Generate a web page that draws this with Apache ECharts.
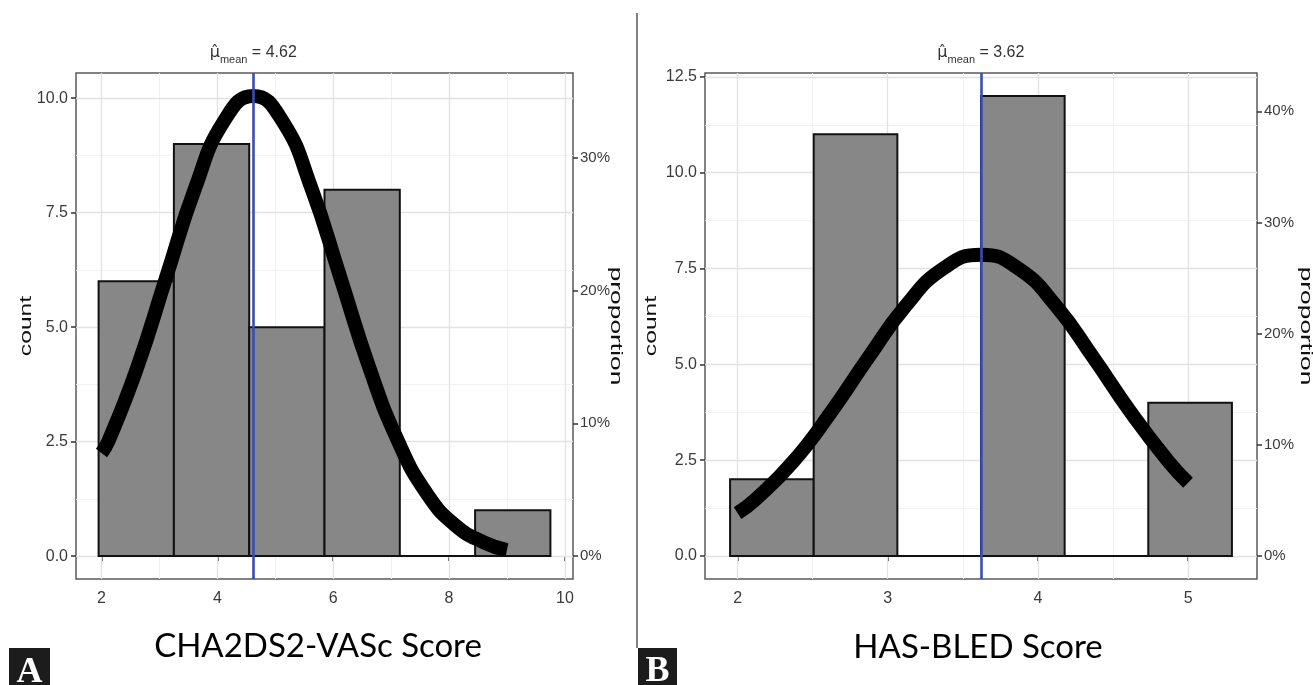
<!DOCTYPE html>
<html><head><meta charset="utf-8">
<script src="https://cdn.jsdelivr.net/npm/echarts@6/dist/echarts.min.js"></script>
<style>html,body{margin:0;padding:0;background:#fff}#c{width:1313px;height:685px}</style>
</head><body><div id="c"></div>
<script>
// ---------- Panel A : CHA2DS2-VASc Score ----------
const binStartA = [1.95, 3.25, 4.55, 5.85, 7.15, 8.45];
const binEndA   = [3.25, 4.55, 5.85, 7.15, 8.45, 9.75];
const countsA   = [6, 9, 5, 8, 0, 1];
const curveXA   = [2, 2.12, 2.62, 3.12, 3.62, 4.12, 4.62, 5.12, 5.62, 6.12, 6.62, 7.12, 7.62, 8.12, 8.62, 9];
const curveYA   = [2.25, 2.51, 4.13, 6.1, 8.05, 9.51, 10.05, 9.51, 8.05, 6.1, 4.13, 2.51, 1.36, 0.66, 0.29, 0.13];
const meanA     = 4.62;
const nA        = 29;
const xTicksA   = [2, 4, 6, 8, 10];
const xMinorA   = [3, 5, 7, 9];
const yTicksA   = [0, 2.5, 5, 7.5, 10];
const yMinorA   = [1.25, 3.75, 6.25, 8.75];
const propTicksA = [0, 0.1, 0.2, 0.3];
const titleA    = 'CHA2DS2-VASc Score';

// ---------- Panel B : HAS-BLED Score ----------
const binStartB = [1.95, 2.507, 3.064, 3.621, 4.178, 4.735];
const binEndB   = [2.507, 3.064, 3.621, 4.178, 4.735, 5.292];
const countsB   = [2, 11, 0, 12, 0, 4];
const curveXB   = [2, 2.12, 2.37, 2.62, 2.87, 3.12, 3.37, 3.62, 3.87, 4.12, 4.37, 4.62, 4.87, 5];
const curveYB   = [1.12, 1.48, 2.46, 3.74, 5.17, 6.53, 7.5, 7.86, 7.5, 6.53, 5.17, 3.74, 2.46, 1.91];
const meanB     = 3.62;
const nB        = 29;
const xTicksB   = [2, 3, 4, 5];
const xMinorB   = [2.5, 3.5, 4.5];
const yTicksB   = [0, 2.5, 5, 7.5, 10, 12.5];
const yMinorB   = [1.25, 3.75, 6.25, 8.75, 11.25];
const propTicksB = [0, 0.1, 0.2, 0.3, 0.4];
const titleB    = 'HAS-BLED Score';

// ---------- styling ----------
const tickFont = "'Liberation Sans Narrow','Arial Narrow','Liberation Sans',Arial,sans-serif";
const labelColor = '#3a3a3a';
const majorGrid = {color: '#e2e2e2', width: 1.3, type: 'solid'};
const minorGrid = {color: '#efefef', width: 0.9, type: 'solid'};

function xAxes(gi, min, max, ticks, mean) {
  return [{
    gridIndex: gi, type: 'value', position: 'bottom', min: min, max: max,
    axisLine: {show: false}, splitLine: {show: false},
    axisTick: {show: true, customValues: ticks, length: 5, lineStyle: {color: '#333', width: 1.5}},
    axisLabel: {customValues: ticks, margin: 12, color: labelColor, fontSize: 16, fontFamily: tickFont,
      formatter: v => String(v)}
  }, {
    gridIndex: gi, type: 'value', position: 'top', min: min, max: max,
    axisLine: {show: false}, splitLine: {show: false},
    axisTick: {show: true, customValues: [mean], length: 6, lineStyle: {color: '#222', width: 1.5}},
    axisLabel: {customValues: [mean], margin: 8, color: '#333',
      formatter: v => '{mu|\u03BC\u0302}{sub|mean}{eq| = ' + v.toFixed(2) + '}',
      rich: {
        mu: {fontSize: 16, fontFamily: "'DejaVu Sans',sans-serif", color: '#333', lineHeight: 24, verticalAlign: 'middle'},
        sub: {fontSize: 11, fontFamily: tickFont, color: '#333', lineHeight: 12, verticalAlign: 'bottom'},
        eq: {fontSize: 16, fontFamily: tickFont, color: '#333', lineHeight: 24, verticalAlign: 'middle'}
      }}
  }];
}
function yAxes(gi, min, max, ticks, n, props) {
  return [{
    gridIndex: gi, type: 'value', position: 'left', min: min, max: max,
    axisLine: {show: false}, splitLine: {show: false},
    axisTick: {show: true, customValues: ticks, length: 5, lineStyle: {color: '#333', width: 1.5}},
    axisLabel: {customValues: ticks, margin: 8, color: labelColor, fontSize: 16, fontFamily: tickFont,
      formatter: v => v.toFixed(1)}
  }, {
    gridIndex: gi, type: 'value', position: 'right', min: min / n, max: max / n,
    axisLine: {show: false}, splitLine: {show: false},
    axisTick: {show: true, customValues: props, length: 5, lineStyle: {color: '#333', width: 1.5}},
    axisLabel: {customValues: props, margin: 7, color: labelColor, fontSize: 15, fontFamily: tickFont,
      formatter: v => Math.round(v * 100) + '%'}
  }];
}

function gridSeries(xi, yi, xMaj, xMin, yMaj, yMin, anchor) {
  const d = [];
  xMin.forEach(v => d.push({xAxis: v, lineStyle: minorGrid}));
  yMin.forEach(v => d.push({yAxis: v, lineStyle: minorGrid}));
  xMaj.forEach(v => d.push({xAxis: v, lineStyle: majorGrid}));
  yMaj.forEach(v => d.push({yAxis: v, lineStyle: majorGrid}));
  return {
    type: 'line', xAxisIndex: xi, yAxisIndex: yi, z: 1, silent: true,
    data: [[anchor, 0]], showSymbol: false, lineStyle: {opacity: 0},
    markLine: {z: 1, silent: true, symbol: 'none', animation: false, label: {show: false}, data: d}
  };
}
function barSeries(xi, yi, starts, ends, counts) {
  return {
    type: 'custom', xAxisIndex: xi, yAxisIndex: yi, z: 3, silent: true,
    data: starts.map((s, i) => [s, ends[i], counts[i]]),
    encode: {x: [0, 1], y: 2},
    renderItem: (params, api) => {
      const p0 = api.coord([api.value(0), 0]);
      const p1 = api.coord([api.value(1), api.value(2)]);
      return {type: 'rect',
        shape: {x: p0[0], y: p1[1], width: p1[0] - p0[0], height: p0[1] - p1[1]},
        style: {fill: '#878787', stroke: '#111', lineWidth: 2}};
    }
  };
}
function curveSeries(xi, yi, xs, ys) {
  return {
    type: 'line', xAxisIndex: xi, yAxisIndex: yi, z: 5, silent: true,
    data: xs.map((x, i) => [x, ys[i]]), showSymbol: false, smooth: true,
    lineStyle: {color: '#000', width: 14, cap: 'butt', join: 'round'}
  };
}
function meanSeries(xi, yi, mean) {
  return {
    type: 'line', xAxisIndex: xi, yAxisIndex: yi, z: 10, silent: true,
    data: [[mean, 0]], showSymbol: false, lineStyle: {opacity: 0},
    markLine: {z: 10, silent: true, symbol: 'none', animation: false, label: {show: false},
      data: [{xAxis: mean, lineStyle: {color: '#3a4cb5', width: 2.6, type: 'solid'}}]}
  };
}

const chart = echarts.init(document.getElementById('c'), null, {renderer: 'canvas'});
const axXA = xAxes(0, 1.56, 10.14, xTicksA, meanA);
const axXB = xAxes(1, 1.783, 5.459, xTicksB, meanB);
const axYA = yAxes(0, -0.5, 10.55, yTicksA, nA, propTicksA);
const axYB = yAxes(1, -0.6, 12.6, yTicksB, nB, propTicksB);

const axisTitleFont = "'Liberation Sans',Arial,sans-serif";
chart.setOption({
  animation: false,
  backgroundColor: '#fff',
  grid: [
    {left: 76, top: 73, width: 497, height: 506, show: true, borderColor: '#5a5a5a', borderWidth: 1.5, backgroundColor: '#fff'},
    {left: 705, top: 73, width: 552, height: 506, show: true, borderColor: '#5a5a5a', borderWidth: 1.5, backgroundColor: '#fff'}
  ],
  xAxis: [axXA[0], axXA[1], axXB[0], axXB[1]],
  yAxis: [axYA[0], axYA[1], axYB[0], axYB[1]],
  series: [
    gridSeries(0, 0, xTicksA, xMinorA, yTicksA, yMinorA, meanA),
    barSeries(0, 0, binStartA, binEndA, countsA),
    curveSeries(0, 0, curveXA, curveYA),
    meanSeries(0, 0, meanA),
    gridSeries(2, 2, xTicksB, xMinorB, yTicksB, yMinorB, meanB),
    barSeries(2, 2, binStartB, binEndB, countsB),
    curveSeries(2, 2, curveXB, curveYB),
    meanSeries(2, 2, meanB)
  ],
  graphic: [
    {type: 'line', shape: {x1: 637, y1: 13, x2: 637, y2: 648}, style: {stroke: '#555', lineWidth: 1.5}},
    {type: 'text', x: 26, y: 326, rotation: Math.PI / 2, scaleX: 1.45,
      style: {text: 'count', fontSize: 17, fontFamily: axisTitleFont, fill: '#111', align: 'center', verticalAlign: 'middle'}},
    {type: 'text', x: 616, y: 326, rotation: -Math.PI / 2, scaleX: 1.55,
      style: {text: 'proportion', fontSize: 17, fontFamily: axisTitleFont, fill: '#111', align: 'center', verticalAlign: 'middle'}},
    {type: 'text', x: 651, y: 326, rotation: Math.PI / 2, scaleX: 1.45,
      style: {text: 'count', fontSize: 17, fontFamily: axisTitleFont, fill: '#111', align: 'center', verticalAlign: 'middle'}},
    {type: 'text', x: 1306, y: 326, rotation: -Math.PI / 2, scaleX: 1.55,
      style: {text: 'proportion', fontSize: 17, fontFamily: axisTitleFont, fill: '#111', align: 'center', verticalAlign: 'middle'}},
    {type: 'text', x: 318, y: 646,
      style: {text: titleA, fontSize: 33, fontFamily: "Lato,'Open Sans',sans-serif", fill: '#000', align: 'center', verticalAlign: 'middle'}},
    {type: 'text', x: 978, y: 647,
      style: {text: titleB, fontSize: 33, fontFamily: "Lato,'Open Sans',sans-serif", fill: '#000', align: 'center', verticalAlign: 'middle'}},
    {type: 'rect', shape: {x: 9, y: 648, width: 41, height: 37}, style: {fill: '#1c1c1c'}},
    {type: 'text', x: 29.5, y: 673, style: {text: 'A', fontSize: 36, fontWeight: 'bold', fontFamily: "'Liberation Serif','DejaVu Serif',serif", fill: '#fff', align: 'center', verticalAlign: 'middle'}},
    {type: 'rect', shape: {x: 638, y: 648, width: 39, height: 37}, style: {fill: '#1c1c1c'}},
    {type: 'text', x: 657.5, y: 672, style: {text: 'B', fontSize: 36, fontWeight: 'bold', fontFamily: "'Liberation Serif','DejaVu Serif',serif", fill: '#fff', align: 'center', verticalAlign: 'middle'}}
  ]
});
</script></body></html>
